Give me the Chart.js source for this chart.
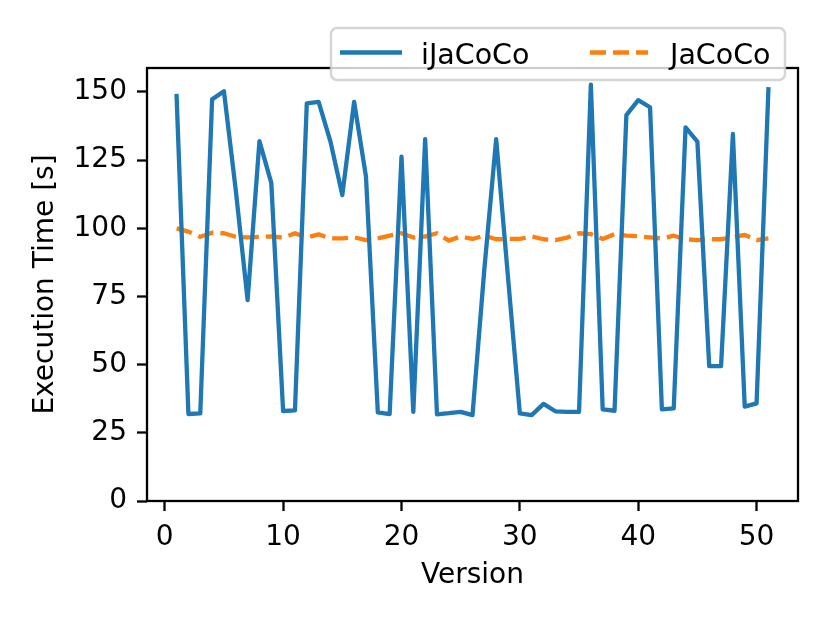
<!DOCTYPE html>
<html>
<head>
<meta charset="utf-8">
<script src="https://cdn.jsdelivr.net/npm/chart.js@4"></script>
<style>
  html, body { margin: 0; padding: 0; background: #fff; }
  #grafico { display: block; }
</style>
</head>
<body>
<canvas id="grafico" width="830" height="623"></canvas>
<script>
// Dados
const versions = [1, 2, 3, 4, 5, 6, 7, 8, 9, 10, 11, 12, 13, 14, 15, 16, 17, 18, 19, 20,
    21, 22, 23, 24, 25, 26, 27, 28, 29, 30, 31, 32, 33, 34, 35, 36, 37, 38, 39, 40,
    41, 42, 43, 44, 45, 46, 47, 48, 49, 50, 51];

const iJaCoCo = [148.5, 31.9, 32.1, 147.3, 150.3, 114, 73.7, 132, 116.7, 33, 33.2, 145.8, 146.4, 131.8, 112.2, 146.4, 119, 32.5, 31.9, 126.3,
    32.7, 132.7, 31.8, 32.2, 32.7, 31.5, 85, 132.7, 82, 32.1, 31.5, 35.6, 32.9, 32.7, 32.7, 152.7, 33.6, 33.1, 141.5, 147,
    144.4, 33.6, 34, 137, 131.8, 49.5, 49.5, 134.6, 34.6, 35.8, 151];

const JaCoCo = [100, 98.8, 96.9, 98.4, 98.2, 96.9, 96.7, 96.9, 97, 96.6, 98.2, 96.6, 97.8, 96.3, 96.3, 96.7, 95.7, 96.3, 97.3, 98.2,
    96.6, 97, 98.2, 95.5, 97, 96.1, 97.3, 96, 96.1, 96.1, 97, 96, 95.7, 96.6, 98.2, 97.9, 96.1, 97.9, 97.3, 97.1,
    96.7, 96.3, 97.3, 96, 95.7, 96, 96, 96.7, 97.6, 95.7, 96.3];

const xTicks = [0, 10, 20, 30, 40, 50];
const yTicks = [0, 25, 50, 75, 100, 125, 150];

const FONT = 'DejaVu Sans';
const AZUL = '#1f77b4';
const LARANJA = '#ff7f0e';

function pontos(valores) {
    return versions.map((v, i) => ({ x: v, y: valores[i] }));
}

// Moldura dos eixos (quatro lados) e legenda por cima
const molduraELegenda = {
    id: 'molduraELegenda',
    afterDraw(chart) {
        const ctx = chart.ctx;
        const a = chart.chartArea;
        ctx.save();
        ctx.strokeStyle = '#000';
        ctx.lineWidth = 2.3;
        ctx.strokeRect(a.left, a.top, a.right - a.left, a.bottom - a.top);

        // caixa da legenda
        const bx = 331, by = 28, bw = 454, bh = 52, r = 6;
        ctx.beginPath();
        ctx.roundRect(bx, by, bw, bh, r);
        ctx.fillStyle = 'rgba(255,255,255,0.8)';
        ctx.fill();
        ctx.strokeStyle = 'rgba(204,204,204,0.8)';
        ctx.lineWidth = 2.5;
        ctx.stroke();

        const ly = 52.5;
        ctx.lineWidth = 4.3;
        ctx.strokeStyle = AZUL;
        ctx.lineCap = 'butt';
        ctx.beginPath();
        ctx.moveTo(340, ly);
        ctx.lineTo(402, ly);
        ctx.stroke();

        ctx.strokeStyle = LARANJA;
        ctx.setLineDash([16, 7]);
        ctx.beginPath();
        ctx.moveTo(590, ly);
        ctx.lineTo(648, ly);
        ctx.stroke();
        ctx.setLineDash([]);

        ctx.fillStyle = '#000';
        ctx.font = '28.5px "' + FONT + '"';
        ctx.textBaseline = 'alphabetic';
        ctx.textAlign = 'left';
        ctx.fillText('iJaCoCo', 421, 63.5);
        ctx.fillText('JaCoCo', 670, 63.5);
        ctx.restore();
    }
};

function desenharGrafico() {
    const ctx = document.getElementById('grafico').getContext('2d');
    new Chart(ctx, {
        type: 'line',
        data: {
            datasets: [{
                label: 'iJaCoCo',
                data: pontos(iJaCoCo),
                borderColor: AZUL,
                borderWidth: 4.3,
                borderJoinStyle: 'round',
                borderCapStyle: 'square',
                pointRadius: 0,
                tension: 0
            }, {
                label: 'JaCoCo',
                data: pontos(JaCoCo),
                borderColor: LARANJA,
                borderWidth: 4.3,
                borderDash: [16, 7],
                borderJoinStyle: 'round',
                borderCapStyle: 'butt',
                pointRadius: 0,
                tension: 0
            }]
        },
        options: {
            responsive: false,
            animation: false,
            devicePixelRatio: 1,
            layout: { padding: { left: 0, right: 32, top: 68, bottom: 0 } },
            plugins: {
                legend: { display: false },
                tooltip: { enabled: false }
            },
            scales: {
                x: {
                    type: 'linear',
                    min: -1.5,
                    max: 53.5,
                    afterBuildTicks: s => { s.ticks = xTicks.map(v => ({ value: v })); },
                    afterFit: s => { s.height = 122; },
                    grid: {
                        drawOnChartArea: false,
                        drawTicks: true,
                        tickLength: 10,
                        tickWidth: 2.3,
                        tickColor: '#000'
                    },
                    border: { display: false },
                    ticks: {
                        color: '#000',
                        padding: 10,
                        maxRotation: 0,
                        font: { family: FONT, size: 28 }
                    },
                    title: {
                        display: true,
                        text: 'Version',
                        color: '#000',
                        font: { family: FONT, size: 28 },
                        padding: { top: 0, bottom: 30 }
                    }
                },
                y: {
                    min: 0,
                    max: 158.8,
                    afterBuildTicks: s => { s.ticks = yTicks.map(v => ({ value: v })); },
                    afterFit: s => { s.width = 147; },
                    grid: {
                        drawOnChartArea: false,
                        drawTicks: true,
                        tickLength: 10,
                        tickWidth: 2.3,
                        tickColor: '#000'
                    },
                    border: { display: false },
                    ticks: {
                        color: '#000',
                        padding: 10,
                        font: { family: FONT, size: 28 }
                    },
                    title: {
                        display: true,
                        text: 'Execution Time [s]',
                        color: '#000',
                        font: { family: FONT, size: 28 },
                        padding: { top: 29, bottom: 0 }
                    }
                }
            }
        },
        plugins: [molduraELegenda]
    });
}

document.addEventListener('DOMContentLoaded', desenharGrafico);
</script>
</body>
</html>
